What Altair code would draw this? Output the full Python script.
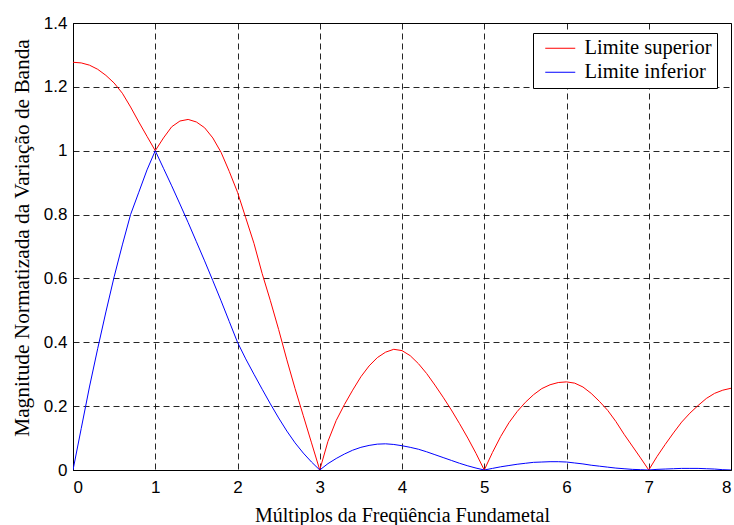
import altair as alt
import pandas as pd

# Harmonic multiples (x axis samples)
x_vals = [round(i * 0.1, 1) for i in range(81)]

# Upper bound of the normalized bandwidth-variation magnitude
upper = [
    1.277, 1.275, 1.268, 1.255, 1.236, 1.212, 1.180, 1.137, 1.090, 1.045,
    1.000, 1.040, 1.075, 1.093, 1.098, 1.090, 1.072, 1.040, 0.995, 0.935,
    0.870, 0.790, 0.710, 0.615, 0.530, 0.440, 0.345, 0.255, 0.170, 0.085,
    0.000, 0.090, 0.155, 0.205, 0.250, 0.292, 0.326, 0.352, 0.369, 0.378,
    0.374, 0.358, 0.333, 0.302, 0.266, 0.228, 0.188, 0.145, 0.100, 0.052,
    0.000, 0.055, 0.105, 0.148, 0.183, 0.212, 0.236, 0.255, 0.267, 0.274,
    0.276, 0.272, 0.260, 0.240, 0.215, 0.187, 0.152, 0.112, 0.075, 0.038,
    0.000, 0.042, 0.080, 0.116, 0.150, 0.178, 0.202, 0.224, 0.240, 0.250,
    0.256,
]

# Lower bound
lower = [
    0.000, 0.130, 0.260, 0.380, 0.495, 0.605, 0.705, 0.800, 0.870, 0.940,
    1.000, 0.945, 0.890, 0.833, 0.775, 0.715, 0.655, 0.593, 0.530, 0.465,
    0.400, 0.348, 0.300, 0.253, 0.207, 0.163, 0.122, 0.085, 0.053, 0.025,
    0.000, 0.020, 0.036, 0.050, 0.062, 0.071, 0.077, 0.081, 0.082, 0.080,
    0.076, 0.071, 0.065, 0.057, 0.048, 0.039, 0.030, 0.021, 0.013, 0.006,
    0.000, 0.005, 0.010, 0.014, 0.018, 0.021, 0.024, 0.025, 0.026, 0.026,
    0.025, 0.022, 0.019, 0.015, 0.012, 0.009, 0.006, 0.004, 0.002, 0.001,
    0.000, 0.002, 0.003, 0.004, 0.005, 0.005, 0.005, 0.004, 0.003, 0.001,
    0.000,
]

series_names = ["Limite superior", "Limite inferior"]
series_colors = ["#ff0000", "#0000ff"]

x_ticks = [0, 1, 2, 3, 4, 5, 6, 7, 8]
y_ticks = [0, 0.2, 0.4, 0.6, 0.8, 1, 1.2, 1.4]

df = pd.concat([
    pd.DataFrame({"x": x_vals, "y": upper, "serie": series_names[0], "ordem": 0}),
    pd.DataFrame({"x": x_vals, "y": lower, "serie": series_names[1], "ordem": 1}),
])

chart = (
    alt.Chart(df)
    .mark_line(strokeWidth=1, clip=True)
    .encode(
        x=alt.X(
            "x:Q",
            scale=alt.Scale(domain=[0, 8], nice=False, zero=False),
            axis=alt.Axis(
                values=x_ticks,
                format="d",
                title="Múltiplos da Freqüência Fundametal",
                titleY=51,
                titleBaseline="alphabetic",
                labelPadding=9,
            ),
        ),
        y=alt.Y(
            "y:Q",
            scale=alt.Scale(domain=[0, 1.4], nice=False),
            axis=alt.Axis(
                values=y_ticks,
                format="~g",
                title="Magnitude Normatizada da Variação de Banda",
                titleFontSize=21.3,
                titleX=-51,
                titleY=214.5,
                titleBaseline="middle",
                titleAlign="center",
                labelPadding=6,
            ),
        ),
        color=alt.Color(
            "serie:N",
            scale=alt.Scale(domain=series_names, range=series_colors),
            legend=alt.Legend(
                title=None,
                orient="none",
                legendX=460,
                legendY=10,
                # a 30 px horizontal stroke drawn inside a compact legend row
                symbolType="M-2,0H2",
                symbolSize=225,
                symbolStrokeWidth=1,
                symbolOffset=12,
                labelFont="Liberation Serif",
                labelFontSize=20.5,
                labelColor="black",
                labelOffset=14,
                labelExpr="datum.label + '\u00a0\u00a0'",
                padding=5,
                rowPadding=3,
                strokeColor="black",
                fillColor="white",
                labelLimit=0,
            ),
        ),
        order="ordem:O",
        detail="serie:N",
    )
    .properties(
        width=658,
        height=447,
        autosize=alt.AutoSizeParams(type="none"),
        padding={"left": 73, "top": 23, "right": 3, "bottom": 55},
    )
    .configure_view(stroke="black", strokeWidth=1)
    .configure_axis(
        domainColor="black",
        domainWidth=1,
        ticks=False,
        grid=True,
        gridColor="black",
        gridDash=[6, 4],
        gridWidth=1,
        gridOpacity=0.85,
        labelFont="Liberation Sans",
        labelFontSize=17,
        labelColor="black",
        titleFont="Liberation Serif",
        titleFontSize=20,
        titleFontWeight="normal",
        titleColor="black",
    )
)

chart.save("out.html", embed_options={"renderer": "svg", "actions": False})
